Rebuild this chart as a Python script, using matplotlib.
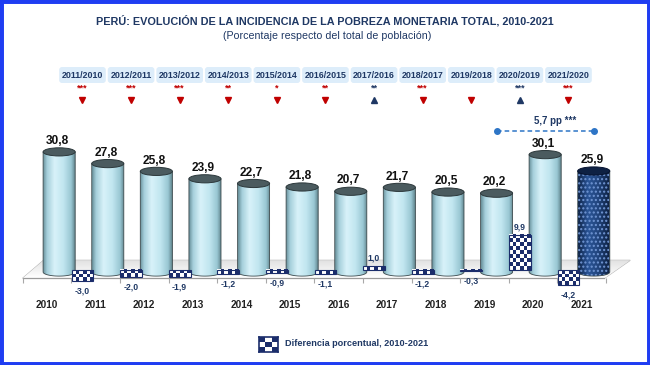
import numpy as np
import matplotlib
matplotlib.use("Agg")
import matplotlib.pyplot as plt
from matplotlib.patches import Polygon, Ellipse, Rectangle, FancyBboxPatch
from matplotlib.colors import LinearSegmentedColormap, ListedColormap

# datos
years = [2010, 2011, 2012, 2013, 2014, 2015, 2016, 2017, 2018, 2019, 2020, 2021]
pobreza = [30.8, 27.8, 25.8, 23.9, 22.7, 21.8, 20.7, 21.7, 20.5, 20.2, 30.1, 25.9]
diferencia = [-3.0, -2.0, -1.9, -1.2, -0.9, -1.1, 1.0, -1.2, -0.3, 9.9, -4.2]
periodos = ["2011/2010", "2012/2011", "2013/2012", "2014/2013", "2015/2014", "2016/2015",
            "2017/2016", "2018/2017", "2019/2018", "2020/2019", "2021/2020"]
signif = ["***", "***", "***", "**", "*", "**", "**", "***", "", "***", "***"]
direccion = ["down", "down", "down", "down", "down", "down", "up", "down", "down", "up", "down"]
brecha_txt = "5,7 pp ***"

NARROW = ["Liberation Sans Narrow", "Liberation Sans", "DejaVu Sans"]
ARIAL = ["Liberation Sans", "DejaVu Sans"]
NAVY = "#1f3864"
RED = "#c00000"


def fmt(v):
    return f"{v:.1f}".replace(".", ",")


W, H = 650, 365
fig = plt.figure(figsize=(6.5, 3.65), dpi=100)
fig.patch.set_facecolor("white")

# eje principal: 1 año = 48.6 px, 1 punto = 3.9 px, cero en y=272 px
ax = fig.add_axes([0, 0, 1, 1])
ax.axis("off")
x0px, dxpx = 47, 48.6
y0px, dypx = 272, 3.9
ax.set_xlim(-x0px / dxpx, (W - x0px) / dxpx)
ax.set_ylim(-(H - y0px) / dypx, y0px / dypx)

n = len(years)
xi = np.arange(n)
cyl_x = xi + 0.25
cyl_w = 0.66
ell_h = 2.1

# piso
front_y, back_y = -1.6, 3.0
floor = Polygon([(-0.5, front_y), (-0.07, back_y), (12.0, back_y), (11.47, front_y)],
                closed=True, fc="none", ec="#b8b8b8", lw=0.8, zorder=1)
ax.add_patch(floor)
floor_cmap = LinearSegmentedColormap.from_list("floor", ["#ffffff", "#e2e2e2"])
im = ax.imshow(np.linspace(0, 1, 32)[:, None], extent=(-0.5, 12.0, front_y, back_y),
               origin="lower", aspect="auto", cmap=floor_cmap, zorder=1)
im.set_clip_path(floor)
ax.plot([-0.5, 11.47], [front_y, front_y], color="#9a9a9a", lw=0.9, zorder=2)
ax.vlines(np.arange(n + 1) - 0.5, front_y - 1.3, front_y, color="#a8a8a8", lw=0.8, zorder=2)

cyl_cmap = LinearSegmentedColormap.from_list(
    "cyl", [(0, "#6a929c"), (0.12, "#a6d0dc"), (0.35, "#d8f2f9"), (0.62, "#c1e6f0"),
            (0.86, "#99c7d3"), (1.0, "#5a7c85")])
dark_cmap = LinearSegmentedColormap.from_list(
    "cyl21", [(0, "#0f2448"), (0.3, "#2b5597"), (0.6, "#22467f"), (1.0, "#0c1d3c")])


def cilindro(xc, h, cmap, top_fc, top_ec, hatch=None):
    xa, xb = xc - cyl_w / 2, xc + cyl_w / 2
    t = np.linspace(np.pi, 2 * np.pi, 40)
    arc = np.column_stack([xc + cyl_w / 2 * np.cos(t), ell_h / 2 * np.sin(t)])
    verts = [(xa, h)] + [tuple(p) for p in arc] + [(xb, h)]
    body = Polygon(verts, closed=True, fc="none", ec="#3c4a4e", lw=0.6, zorder=4)
    ax.add_patch(body)
    g = ax.imshow(np.linspace(0, 1, 64)[None, :], extent=(xa, xb, -ell_h / 2, h),
                  aspect="auto", cmap=cmap, zorder=3)
    g.set_clip_path(body)
    if hatch:
        ax.add_patch(Polygon(verts, closed=True, fill=False, hatch=hatch,
                             ec="#7196d4", lw=0, zorder=3.5))
    ax.add_patch(Ellipse((xc, h), cyl_w, ell_h, fc=top_fc, ec=top_ec, lw=0.7, zorder=5))


for k in range(n):
    if k == n - 1:
        cilindro(cyl_x[k], pobreza[k], dark_cmap, "#0e2143", "#061330", hatch="....")
    else:
        cilindro(cyl_x[k], pobreza[k], cyl_cmap, "#4b5b5f", "#2c383b")
    ax.annotate(fmt(pobreza[k]), (cyl_x[k] - 0.04, pobreza[k]), xytext=(0, 3.5),
                textcoords="offset points", ha="center", va="bottom",
                fontsize=8.6, fontweight="bold", family=NARROW, color="#111111", zorder=6)
    ax.text(xi[k], (y0px - 305) / dypx, str(years[k]), ha="center", va="center",
            fontsize=7.2, fontweight="bold", family=ARIAL, color="#222222")

# cabeceras, estrellas y flechas
dif_x = xi[1:] - 0.27
box_y = (y0px - 75) / dypx
box_w, box_h = 0.96, 16 / dypx
for k, lab in enumerate(periodos):
    xc = dif_x[k]
    ax.add_patch(FancyBboxPatch((xc - box_w / 2, box_y - box_h / 2), box_w, box_h,
                                boxstyle="round,pad=0,rounding_size=0.06",
                                mutation_aspect=12.5, fc="#ddedfa", ec="none", zorder=2))
    ax.text(xc, box_y, lab, ha="center", va="center", fontsize=6.4, fontweight="bold",
            family=NARROW, color=NAVY, zorder=3)
    col = NAVY if direccion[k] == "up" else RED
    if signif[k]:
        ax.text(xc, (y0px - 88) / dypx, signif[k], ha="center", va="center",
                fontsize=6.5, fontweight="bold", family=ARIAL, color=col)
    ax.plot(xc, (y0px - 100) / dypx, marker="^" if direccion[k] == "up" else "v",
            ms=4.5, color=col, ls="none")

# brecha 2019-2021
ax.plot([cyl_x[9], cyl_x[11]], [(y0px - 131) / dypx] * 2, ls=(0, (3, 2)), lw=1.1,
        color="#2e75c6", marker="o", ms=4, zorder=6)
ax.text((cyl_x[9] + cyl_x[11]) / 2 + 0.2, (y0px - 121) / dypx, brecha_txt,
        ha="center", va="center", fontsize=7, fontweight="bold", family=NARROW, color=NAVY)

# diferencias (eje propio: 3.55 px por punto, cero en y=270 px)
ax2 = fig.add_axes([0, 0, 1, 1], sharex=ax)
ax2.axis("off")
checker = ListedColormap(["white", "#1b2d6b"])
dif_w = 0.45
for k, d in enumerate(diferencia):
    xc = dif_x[k]
    rows = max(1, int(round(abs(d) * 3.55 / 3.9)))
    pat = (np.add.outer(np.arange(rows), np.arange(6)) % 2)
    lo, hi = min(0, d), max(0, d)
    ax2.imshow(pat, cmap=checker, extent=(xc - dif_w / 2, xc + dif_w / 2, lo, hi),
               interpolation="nearest", aspect="auto", vmin=0, vmax=1, zorder=3)
    ax2.add_patch(Rectangle((xc - dif_w / 2, lo), dif_w, hi - lo, fill=False,
                            ec="#1b2d6b", lw=0.8, zorder=4))
    if d < 0:
        ax2.annotate(fmt(d), (xc, d), xytext=(0, -4), textcoords="offset points",
                     ha="center", va="top", fontsize=6.2, fontweight="bold",
                     family=NARROW, color=NAVY)
    else:
        ax2.annotate(fmt(d), (xc, d), xytext=(0, 2.5), textcoords="offset points",
                     ha="center", va="bottom", fontsize=6.2, fontweight="bold",
                     family=NARROW, color=NAVY)
ax2.set_ylim(-(H - 270) / 3.55, 270 / 3.55)
ax.set_xlim(-x0px / dxpx, (W - x0px) / dxpx)

# leyenda
lax = fig.add_axes([259 / W, 1 - 352 / H, 19 / W, 15 / H])
lax.imshow(np.add.outer(np.arange(3), np.arange(3)) % 2 == 0, cmap=checker,
           interpolation="nearest", aspect="auto")
lax.set_xticks([])
lax.set_yticks([])
for s in lax.spines.values():
    s.set_color("#1b2d6b")
    s.set_linewidth(1.2)
fig.text(285 / W, 1 - 344 / H, "Diferencia porcentual, 2010-2021", ha="left", va="center",
         fontsize=6.6, fontweight="bold", family=NARROW, color=NAVY)

# títulos
fig.text(0.5, 1 - 21 / H,
         "PERÚ: EVOLUCIÓN DE LA INCIDENCIA DE LA POBREZA MONETARIA TOTAL, 2010-2021",
         ha="center", va="center", fontsize=7.8, fontweight="bold", family=NARROW, color=NAVY)
fig.text(0.503, 1 - 36 / H, "(Porcentaje respecto del total de población)",
         ha="center", va="center", fontsize=7.7, family=NARROW, color=NAVY)

# marco azul
fig.add_artist(Rectangle((0, 0), 1, 1, transform=fig.transFigure, fill=False,
                         ec="#1f3df2", lw=5))

fig.savefig("out.png", dpi=100)
